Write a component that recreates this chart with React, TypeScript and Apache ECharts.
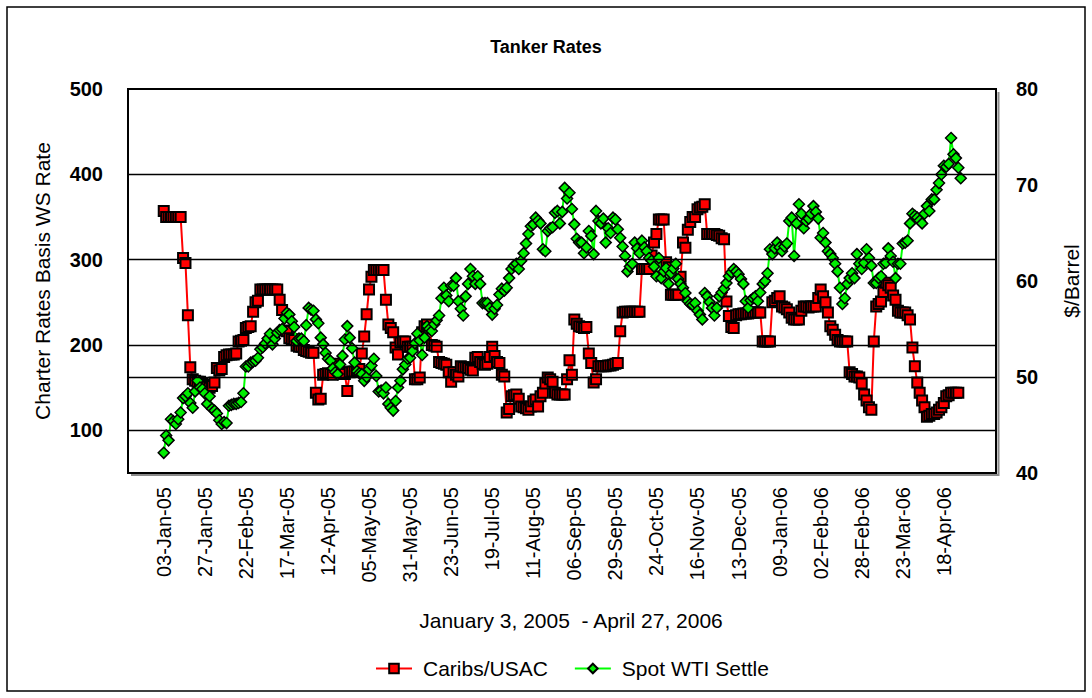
import React, { useEffect, useRef } from "react";
import * as echarts from "echarts";

// X tick labels (one every 17 trading days, starting at the first observation)
const tickLabels = [
  "03-Jan-05", "27-Jan-05", "22-Feb-05", "17-Mar-05", "12-Apr-05", "05-May-05", "31-May-05",
  "23-Jun-05", "19-Jul-05", "11-Aug-05", "06-Sep-05", "29-Sep-05", "24-Oct-05", "16-Nov-05",
  "13-Dec-05", "09-Jan-06", "02-Feb-06", "28-Feb-06", "23-Mar-06", "18-Apr-06",
];
const tickStep = 17;

const leftTicks = [100, 200, 300, 400, 500];
const leftGridValues = [100, 200, 300, 400];
const rightGridValues = [50];

// Caribs/USAC charter rate (WS), daily, left axis
const caribsUsac = [
  357, 350, 350, 350, 350, 350, 350, 350, 302, 296,
  235, 174, 160, 158, 157, 157, 155, 153, 151, 150,
  152, 156, 173, 170, 172, 186, 188, 189, 189, 189,
  190, 204, 205, 206, 220, 221, 222, 239, 250, 252,
  265, 265, 265, 265, 265, 265, 265, 265, 253, 241,
  217, 216, 208, 207, 206, 199, 198, 198, 194, 193,
  192, 191, 191, 144, 136, 137, 165, 166, 167, 166,
  165, 178, 175, 168, 166, 166, 146, 168, 169, 169,
  170, 172, 190, 210, 236, 265, 280, 288, 288, 288,
  288, 288, 253, 224, 220, 215, 197, 189, 203, 204,
  204, 198, 198, 198, 160, 160, 162, 215, 222, 224,
  220, 200, 199, 198, 180, 179, 178, 177, 168, 157,
  168, 165, 163, 175, 174, 174, 173, 171, 170, 185,
  186, 180, 178, 177, 178, 186, 198, 187, 180, 179,
  165, 163, 121, 125, 140, 141, 142, 137, 128, 127,
  126, 124, 128, 134, 136, 128, 140, 144, 155, 162,
  160, 157, 144, 142, 142, 142, 142, 160, 182, 165,
  230, 225, 222, 221, 220, 221, 190, 179, 156, 160,
  175, 175, 175, 175, 176, 176, 177, 178, 179, 216,
  238, 239, 239, 239, 239, 239, 239, 239, 289, 289,
  289, 289, 305, 320, 330, 347, 347, 347, 297, 291,
  259, 259, 259, 259, 280, 320, 314, 335, 344, 350,
  350, 359, 361, 362, 365, 330, 330, 330, 330, 329,
  328, 325, 324, 251, 234, 221, 220, 235, 236, 236,
  237, 237, 237, 238, 238, 238, 238, 238, 204, 204,
  204, 204, 250, 252, 255, 257, 245, 244, 242, 238,
  232, 230, 230, 230, 240, 245, 245, 244, 245, 245,
  245, 255, 265, 257, 250, 238, 222, 218, 212, 206,
  204, 204, 204, 204, 168, 166, 163, 163, 162, 155,
  142, 135, 127, 124, 204, 245, 248, 251, 262, 273,
  270, 267, 258, 253, 240, 238, 238, 238, 235, 230,
  197, 175, 156, 144, 135, 127, 116, 117, 119, 119,
  121, 124, 127, 132, 140, 141, 144, 144, 144, 144,
];

// Spot WTI settle ($/barrel), daily, right axis
const spotWti = [
  42.1, 43.9, 43.4, 45.6, 45.4, 45.1, 45.6, 46.3, 47.8, 48.0,
  48.3, 47.3, 46.8, 48.5, 49.6, 48.9, 48.75, 48.3, 47.2, 48.0,
  46.7, 46.5, 46.2, 45.5, 45.1, 45.3, 45.2, 47.0, 47.1, 47.2,
  47.2, 47.3, 47.4, 48.3, 51.1, 51.1, 51.5, 51.6, 51.7, 52.0,
  52.9, 53.1, 53.5, 54.0, 54.5, 53.4, 54.0, 54.6, 54.9, 55.0,
  56.1, 56.7, 56.5, 55.8, 55.2, 53.75, 54.0, 54.0, 53.75, 55.4,
  57.2, 57.0, 56.9, 56.0, 55.6, 54.1, 53.4, 52.5, 51.9, 51.7,
  50.9, 50.5, 50.3, 51.3, 52.2, 53.9, 55.3, 54.1, 53.0, 51.5,
  50.6, 50.4, 50.3, 49.6, 50.0, 50.8, 51.2, 51.9, 50.1, 48.5,
  48.6, 48.3, 48.9, 47.2, 46.8, 46.5, 47.5, 48.9, 49.6, 50.8,
  51.3, 51.9, 52.0, 52.7, 53.5, 54.5, 53.8, 52.3, 54.1, 55.3,
  55.0, 54.8, 55.5, 55.9, 56.4, 58.2, 59.3, 58.5, 57.9, 59.5,
  59.5, 60.3, 57.9, 57.1, 56.4, 58.4, 59.7, 61.25, 60.5, 59.7,
  60.5, 59.7, 57.7, 57.7, 57.7, 57.2, 56.5, 57.1, 57.5, 58.6,
  59.2, 59.0, 59.3, 60.3, 61.25, 61.6, 61.8, 61.25, 62.1, 62.9,
  63.9, 64.9, 65.7, 65.9, 66.6, 66.3, 66.0, 63.3, 63.1, 65.2,
  65.5, 65.6, 67.1, 67.3, 66.0, 67.2, 69.7, 68.6, 69.2, 67.5,
  65.9, 64.4, 64.0, 64.0, 62.9, 63.5, 65.2, 64.7, 62.8, 67.3,
  66.25, 66.0, 66.5, 64.0, 65.5, 65.0, 66.6, 66.4, 65.4, 64.5,
  63.6, 62.6, 61.0, 61.5, 61.8, 64.0, 63.4, 62.9, 64.2, 63.5,
  63.1, 62.4, 62.1, 61.5, 60.5, 62.4, 60.3, 61.0, 61.35, 59.7,
  60.8, 61.3, 61.8, 60.2, 59.7, 59.3, 58.75, 57.9, 57.6, 57.5,
  57.7, 56.9, 56.5, 56.0, 58.75, 58.4, 57.8, 57.2, 56.4, 57.2,
  58.4, 58.8, 59.2, 59.8, 60.5, 60.9, 61.25, 61.0, 60.7, 60.2,
  59.7, 57.9, 57.2, 58.0, 58.2, 58.4, 57.9, 58.8, 59.7, 60.0,
  60.8, 63.3, 62.8, 63.4, 64.0, 63.5, 63.1, 63.6, 63.9, 66.25,
  66.6, 62.6, 66.0, 68.0, 67.0, 65.5, 66.25, 66.5, 67.0, 67.8,
  67.2, 66.5, 64.5, 65.0, 64.0, 63.1, 62.8, 62.4, 61.8, 61.0,
  59.3, 57.6, 58.2, 59.7, 60.3, 60.8, 60.3, 62.8, 61.8, 61.25,
  61.9, 63.3, 62.4, 61.6, 59.8, 59.8, 60.3, 60.5, 61.8, 61.9,
  63.4, 62.6, 62.0, 60.3, 61.8, 61.8, 63.9, 64.0, 64.2, 66.0,
  67.0, 66.8, 66.6, 66.3, 66.0, 67.0, 67.8, 67.3, 68.5, 68.5,
  69.5, 70.2, 71.1, 72.0, 71.9, 72.2, 74.9, 73.2, 72.8, 71.8,
  70.7,
];

const FONT = '"Liberation Sans", Arial, Helvetica, sans-serif';

export default function App() {
  const ref = useRef<HTMLDivElement>(null);

  useEffect(() => {
    if (!ref.current) return;
    const chart = echarts.init(ref.current, null, { renderer: "svg" });
    const tickPositions = tickLabels.map((_, k) => k * tickStep);

    const gridLineStyle = { color: "#000", width: 1.3, type: "solid" as const };

    chart.setOption({
      animation: false,
      backgroundColor: "#ffffff",
      title: {
        text: "Tanker Rates",
        left: "center",
        top: 33,
        textStyle: { fontFamily: FONT, fontSize: 18, fontWeight: "bold", color: "#000" },
      },
      grid: {
        left: 128,
        top: 89,
        width: 868,
        height: 384,
        show: true,
        borderColor: "#000",
        borderWidth: 2,
        backgroundColor: "transparent",
      },
      legend: {
        data: ["Caribs/USAC", "Spot WTI Settle"],
        left: 370,
        top: 653,
        itemWidth: 36,
        itemHeight: 12,
        itemGap: 26,
        textStyle: { fontFamily: FONT, fontSize: 21, color: "#000", padding: [0, 0, 0, 6] },
      },
      xAxis: {
        type: "value",
        min: -14.8,
        max: 344.6,
        axisLine: { show: false },
        axisTick: { show: false },
        splitLine: { show: false },
        axisLabel: {
          customValues: tickPositions,
          formatter: (v: number) => tickLabels[Math.round(v / tickStep)] ?? "",
          rotate: 90,
          margin: 14,
          fontFamily: FONT,
          fontSize: 20,
          color: "#000",
        },
      },
      yAxis: [
        {
          type: "value",
          min: 50,
          max: 500,
          axisLine: { show: false },
          axisTick: { show: false },
          splitLine: { show: false },
          axisLabel: {
            customValues: leftTicks,
            margin: 25,
            fontFamily: FONT,
            fontSize: 20,
            fontWeight: "bold",
            color: "#000",
          },
        },
        {
          type: "value",
          position: "right",
          min: 40,
          max: 80,
          interval: 10,
          axisLine: { show: false },
          axisTick: { show: false },
          splitLine: { show: false },
          axisLabel: {
            margin: 20,
            fontFamily: FONT,
            fontSize: 20,
            fontWeight: "bold",
            color: "#000",
          },
        },
      ],
      graphic: [
        {
          type: "rect",
          silent: true,
          shape: { x: 7, y: 7, width: 1078, height: 684 },
          style: { fill: "none", stroke: "#000", lineWidth: 1.5 },
        },
        {
          type: "line",
          silent: true,
          shape: { x1: 131, y1: 475, x2: 999, y2: 475 },
          style: { stroke: "#8a8a8a", lineWidth: 2 },
        },
        {
          type: "line",
          silent: true,
          shape: { x1: 998.5, y1: 92, x2: 998.5, y2: 476 },
          style: { stroke: "#8a8a8a", lineWidth: 2 },
        },
        {
          type: "text",
          silent: true,
          x: 42,
          y: 281,
          rotation: Math.PI / 2,
          style: {
            text: "Charter Rates Basis WS Rate",
            fontFamily: FONT,
            fontSize: 21,
            fill: "#000",
            textAlign: "center",
            textVerticalAlign: "middle",
          },
        },
        {
          type: "text",
          silent: true,
          x: 1071,
          y: 281,
          rotation: Math.PI / 2,
          style: {
            text: "$/Barrel",
            fontFamily: FONT,
            fontSize: 21,
            fill: "#000",
            textAlign: "center",
            textVerticalAlign: "middle",
          },
        },
        {
          type: "text",
          silent: true,
          x: 571,
          y: 620,
          style: {
            text: "January 3, 2005  - April 27, 2006",
            fontFamily: FONT,
            fontSize: 21,
            fill: "#000",
            textAlign: "center",
            textVerticalAlign: "middle",
          },
        },
      ],
      series: [
        {
          type: "line",
          name: "gridLeft",
          yAxisIndex: 0,
          data: [],
          z: 1,
          silent: true,
          markLine: {
            silent: true,
            symbol: ["none", "none"],
            label: { show: false },
            lineStyle: gridLineStyle,
            data: leftGridValues.map((v) => ({ yAxis: v })),
          },
        },
        {
          type: "line",
          name: "gridRight",
          yAxisIndex: 1,
          data: [],
          z: 1,
          silent: true,
          markLine: {
            silent: true,
            symbol: ["none", "none"],
            label: { show: false },
            lineStyle: gridLineStyle,
            data: rightGridValues.map((v) => ({ yAxis: v })),
          },
        },
        {
          type: "line",
          name: "Caribs/USAC",
          yAxisIndex: 0,
          data: caribsUsac.map((v, i) => [i, v]),
          symbol: "rect",
          symbolSize: 10,
          showAllSymbol: true,
          z: 3,
          lineStyle: { color: "#ff0000", width: 2 },
          itemStyle: { color: "#ff0000", borderColor: "#000", borderWidth: 2 },
        },
        {
          type: "line",
          name: "Spot WTI Settle",
          yAxisIndex: 1,
          data: spotWti.map((v, i) => [i, v]),
          symbol: "diamond",
          symbolSize: 11,
          showAllSymbol: true,
          z: 4,
          lineStyle: { color: "#00ff00", width: 2 },
          itemStyle: { color: "#00ee00", borderColor: "#000", borderWidth: 1.5 },
        },
      ],
    });

    return () => chart.dispose();
  }, []);

  return (
    <div
      ref={ref}
      style={{ position: "fixed", left: 0, top: 0, width: 1092, height: 698, background: "#fff" }}
    />
  );
}
